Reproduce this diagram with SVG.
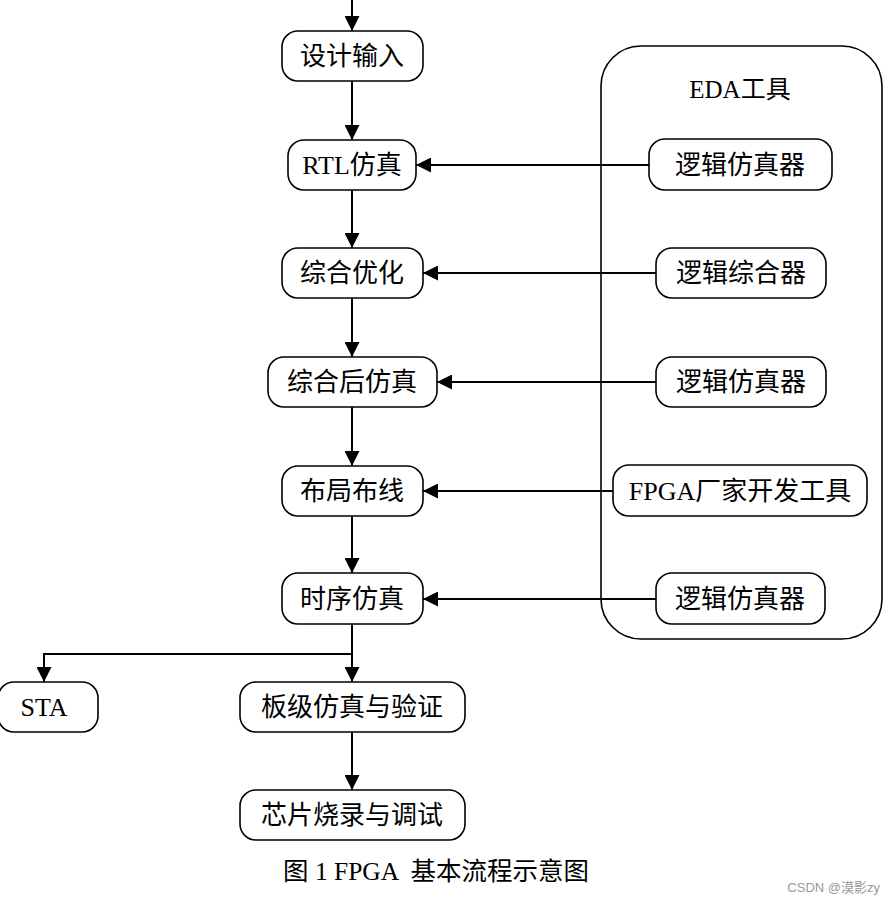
<svg xmlns="http://www.w3.org/2000/svg" width="896" height="904" viewBox="0 0 896 904">
<style>
.n{fill:#fff;stroke:#000;stroke-width:1.6}
.t{font-family:"Liberation Serif","Noto Sans CJK SC",serif;font-size:26px;fill:#000;text-anchor:middle;dominant-baseline:central}
.c{fill:none;stroke:#000;stroke-width:2}
</style>
<defs>
<marker id="a" viewBox="0 0 10 10" refX="10" refY="5" markerWidth="15" markerHeight="15" markerUnits="userSpaceOnUse" orient="auto">
<path d="M0,0L10,5L0,10z" fill="#000"/>
</marker>
</defs>
<rect width="896" height="904" fill="#fff"/>
<g id="eda">
<rect class="n" x="601" y="46" width="281" height="593" rx="40"/>
<text class="t" x="740" y="89" style="font-size:25px">EDA工具</text>
</g>
<g id="connectors">
<path class="c" d="M352,0V31" marker-end="url(#a)"/>
<path class="c" d="M352,81V140" marker-end="url(#a)"/>
<path class="c" d="M352,190V248" marker-end="url(#a)"/>
<path class="c" d="M352,298V357" marker-end="url(#a)"/>
<path class="c" d="M352,407V466" marker-end="url(#a)"/>
<path class="c" d="M352,516V573" marker-end="url(#a)"/>
<path class="c" d="M352,624V682" marker-end="url(#a)"/>
<path class="c" d="M352,654H44V682" marker-end="url(#a)"/>
<path class="c" d="M352,732V790" marker-end="url(#a)"/>
<path class="c" d="M649,165H416" marker-end="url(#a)"/>
<path class="c" d="M656,273H423" marker-end="url(#a)"/>
<path class="c" d="M656,382H437" marker-end="url(#a)"/>
<path class="c" d="M613,491H423" marker-end="url(#a)"/>
<path class="c" d="M656,599H423" marker-end="url(#a)"/>
</g>
<g id="n1"><rect class="n" x="282" y="31" width="141" height="50" rx="16"/><text class="t" x="352" y="56">设计输入</text></g>
<g id="n2"><rect class="n" x="288" y="140" width="128" height="50" rx="16"/><text class="t" x="352" y="165">RTL仿真</text></g>
<g id="n3"><rect class="n" x="282" y="248" width="141" height="50" rx="16"/><text class="t" x="352" y="273">综合优化</text></g>
<g id="n4"><rect class="n" x="268" y="357" width="169" height="50" rx="16"/><text class="t" x="352" y="382">综合后仿真</text></g>
<g id="n5"><rect class="n" x="282" y="466" width="141" height="50" rx="16"/><text class="t" x="352" y="491">布局布线</text></g>
<g id="n6"><rect class="n" x="282" y="573" width="141" height="51" rx="16"/><text class="t" x="352" y="599">时序仿真</text></g>
<g id="n7"><rect class="n" x="-2" y="682" width="100" height="50" rx="16"/><text class="t" x="44" y="707">STA</text></g>
<g id="n8"><rect class="n" x="240" y="682" width="225" height="50" rx="16"/><text class="t" x="352" y="707">板级仿真与验证</text></g>
<g id="n9"><rect class="n" x="240" y="790" width="225" height="50" rx="16"/><text class="t" x="352" y="815">芯片烧录与调试</text></g>
<g id="e1"><rect class="n" x="649" y="139" width="183" height="51" rx="16"/><text class="t" x="740" y="165">逻辑仿真器</text></g>
<g id="e2"><rect class="n" x="656" y="248" width="170" height="50" rx="16"/><text class="t" x="741" y="273">逻辑综合器</text></g>
<g id="e3"><rect class="n" x="656" y="357" width="170" height="50" rx="16"/><text class="t" x="741" y="382">逻辑仿真器</text></g>
<g id="e4"><rect class="n" x="613" y="465" width="254" height="51" rx="16"/><text class="t" x="740" y="491">FPGA厂家开发工具</text></g>
<g id="e5"><rect class="n" x="656" y="573" width="169" height="51" rx="16"/><text class="t" x="740" y="599">逻辑仿真器</text></g>
<text x="283" y="880" style="font-family:'Liberation Serif','Noto Sans CJK SC',serif;font-size:25.5px;fill:#000;white-space:pre">图 1 FPGA  基本流程示意图</text>
<text x="880" y="892" style="font-family:'Liberation Sans','Noto Sans CJK SC',sans-serif;font-size:13px;fill:#999;text-anchor:end">CSDN @漠影zy</text>
</svg>
